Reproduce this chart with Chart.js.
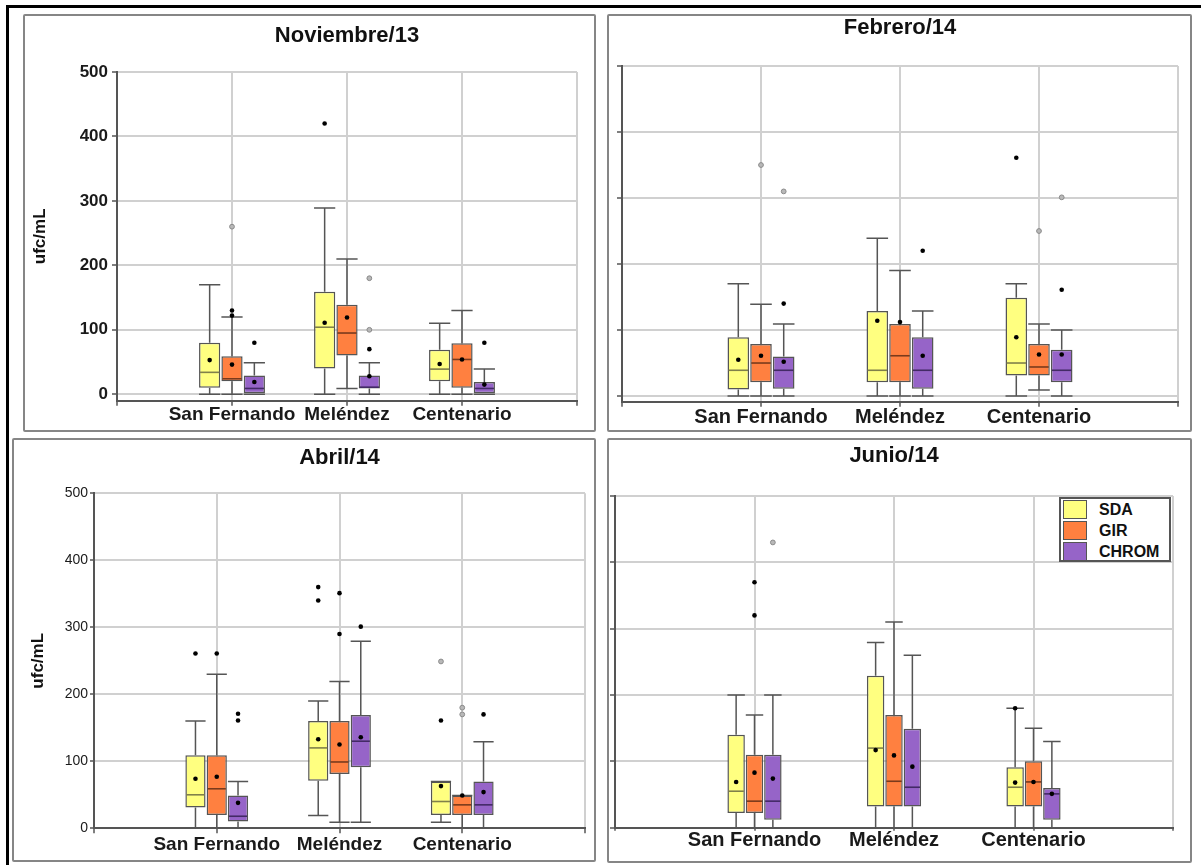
<!DOCTYPE html>
<html>
<head>
<meta charset="utf-8">
<script src="https://cdn.jsdelivr.net/npm/chart.js@4.4.1/dist/chart.umd.min.js"></script>
<style>
  body{margin:0;background:#fff;width:1201px;height:865px;position:relative;overflow:hidden;font-family:"Liberation Sans",Arial,sans-serif;}
  .frame-top{position:absolute;left:6px;top:5px;width:1195px;height:2.5px;background:#000;}
  .frame-left{position:absolute;left:6px;top:5px;width:2.5px;height:860px;background:#000;}
  .panel{position:absolute;border:2px solid #868686;box-sizing:border-box;border-radius:2px;background:#fff;}
  .panel canvas{position:absolute;left:0;top:0;}
  .legend{position:absolute;left:1059px;top:497px;width:112px;height:65px;border:2px solid #555;box-sizing:border-box;background:#fff;}
  .legend .item{position:absolute;left:2px;height:19px;width:106px;}
  .legend .sw{position:absolute;left:0;top:0;width:22px;height:17px;border:1px solid #555;}
  .legend .lbl{position:absolute;left:36px;top:0;line-height:19px;font-weight:bold;font-size:16px;color:#111;}
</style>
</head>
<body>
<div class="frame-top"></div>
<div class="frame-left"></div>

<div class="panel" style="left:23px;top:14px;width:573px;height:418px;"><canvas id="c1" width="569" height="414" style="width:569px;height:414px"></canvas></div>
<div class="panel" style="left:607px;top:14px;width:585px;height:418px;"><canvas id="c2" width="581" height="414" style="width:581px;height:414px"></canvas></div>
<div class="panel" style="left:12px;top:438px;width:584px;height:424px;"><canvas id="c3" width="580" height="420" style="width:580px;height:420px"></canvas></div>
<div class="panel" style="left:607px;top:438px;width:585px;height:425px;"><canvas id="c4" width="581" height="421" style="width:581px;height:421px"></canvas></div>

<div class="legend">
  <div class="item" style="top:1px;"><div class="sw" style="background:#FFFF80"></div><div class="lbl">SDA</div></div>
  <div class="item" style="top:22px;"><div class="sw" style="background:#FF8040"></div><div class="lbl">GIR</div></div>
  <div class="item" style="top:43px;"><div class="sw" style="background:#9664C8"></div><div class="lbl">CHROM</div></div>
</div>

<script>
// ---------- DATA ----------
const categories = ['San Fernando', 'Meléndez', 'Centenario'];
const series = ['SDA', 'GIR', 'CHROM'];
const yTicks = [0, 100, 200, 300, 400, 500];

// box = [min, q1, median, q3, max] per category
// Noviembre/13
const NOV_SDA_BOX   = [[0,10,34,80,170],[0,40,104,159,289],[0,20,39,69,110]];
const NOV_SDA_MEAN  = [53,111,47];
const NOV_SDA_OUT   = [[],[420],[]];
const NOV_SDA_MILD  = [[],[],[]];
const NOV_GIR_BOX   = [[0,20,24,59,120],[9,60,95,139,210],[0,10,54,79,130]];
const NOV_GIR_MEAN  = [46,119,54];
const NOV_GIR_OUT   = [[130,122],[],[]];
const NOV_GIR_MILD  = [[260],[],[]];
const NOV_CHROM_BOX = [[0,0,9,29,49],[0,9,11,29,49],[0,0,9,19,39]];
const NOV_CHROM_MEAN= [19,28,15];
const NOV_CHROM_OUT = [[80],[70],[80]];
const NOV_CHROM_MILD= [[],[100,180],[]];

// Febrero/14
const FEB_SDA_BOX   = [[0,10,39,89,170],[0,21,39,129,239],[0,31,50,149,170]];
const FEB_SDA_MEAN  = [55,114,89];
const FEB_SDA_OUT   = [[],[],[361]];
const FEB_SDA_MILD  = [[],[],[]];
const FEB_GIR_BOX   = [[0,21,50,79,139],[0,21,61,109,190],[9,31,44,79,109]];
const FEB_GIR_MEAN  = [61,112,63];
const FEB_GIR_OUT   = [[],[],[]];
const FEB_GIR_MILD  = [[350],[],[250]];
const FEB_CHROM_BOX = [[0,11,39,60,109],[0,11,39,89,129],[0,21,39,70,100]];
const FEB_CHROM_MEAN= [52,61,63];
const FEB_CHROM_OUT = [[140],[220],[161]];
const FEB_CHROM_MILD= [[310],[],[301]];

// Abril/14
const ABR_SDA_BOX   = [[0,31,50,109,160],[19,71,120,160,190],[9,20,40,70,70]];
const ABR_SDA_MEAN  = [74,133,63];
const ABR_SDA_OUT   = [[261],[340,360],[161]];
const ABR_SDA_MILD  = [[],[],[249]];
const ABR_GIR_BOX   = [[0,20,59,109,230],[9,81,99,160,219],[0,20,35,49,49]];
const ABR_GIR_MEAN  = [77,125,49];
const ABR_GIR_OUT   = [[261],[290,351],[]];
const ABR_GIR_MILD  = [[],[],[170,180]];
const ABR_CHROM_BOX = [[0,10,18,49,70],[9,91,130,169,279],[0,20,35,70,129]];
const ABR_CHROM_MEAN= [38,136,54];
const ABR_CHROM_OUT = [[161,171],[301],[170]];
const ABR_CHROM_MILD= [[],[],[]];

// Junio/14
const JUN_SDA_BOX   = [[0,22,55,140,200],[0,32,120,229,279],[0,32,61,91,180]];
const JUN_SDA_MEAN  = [69,117,68];
const JUN_SDA_OUT   = [[],[],[180]];
const JUN_SDA_MILD  = [[],[],[]];
const JUN_GIR_BOX   = [[0,22,40,110,170],[0,32,70,170,310],[0,32,69,100,150]];
const JUN_GIR_MEAN  = [83,109,69];
const JUN_GIR_OUT   = [[320,370],[],[]];
const JUN_GIR_MILD  = [[],[],[]];
const JUN_CHROM_BOX = [[0,12,40,110,200],[0,32,61,149,260],[0,12,51,60,130]];
const JUN_CHROM_MEAN= [74,92,51];
const JUN_CHROM_OUT = [[],[],[]];
const JUN_CHROM_MILD= [[430],[],[]];

// ---------- STYLE ----------
const FILL   = {SDA:'#FFFF80', GIR:'#FF8040', CHROM:'#9664C8'};
const MEDCOL = {SDA:'#80804a', GIR:'#7a3a1c', CHROM:'#432a66'};
const FAMILY = '"Liberation Sans", Arial, sans-serif';
Chart.defaults.font.family = FAMILY;

const boxDecor = {
  id: 'boxDecor',
  afterDatasetsDraw(chart) {
    const ctx = chart.ctx;
    const ys = chart.scales.y;
    ctx.save();
    chart.data.datasets.forEach((ds, di) => {
      const meta = chart.getDatasetMeta(di);
      meta.data.forEach((bar, i) => {
        const st = ds.stats[i];
        if (!st) return;
        const p = bar.getProps(['x', 'width'], true);
        const x = p.x, hw = p.width / 2;
        const py = v => ys.getPixelForValue(v);
        const [mn, q1, md, q3, mx] = st.box;
        // whiskers + caps
        ctx.strokeStyle = '#555';
        ctx.lineWidth = 1.5;
        ctx.beginPath();
        if (mx > q3) { ctx.moveTo(x, py(q3)); ctx.lineTo(x, py(mx)); }
        ctx.moveTo(x - hw, py(mx)); ctx.lineTo(x + hw, py(mx));
        if (mn < q1) { ctx.moveTo(x, py(q1)); ctx.lineTo(x, py(mn)); }
        ctx.moveTo(x - hw, py(mn)); ctx.lineTo(x + hw, py(mn));
        ctx.stroke();
        // median
        ctx.strokeStyle = ds.medColor;
        ctx.lineWidth = 1.6;
        ctx.beginPath();
        ctx.moveTo(x - hw + 1, py(md)); ctx.lineTo(x + hw - 1, py(md));
        ctx.stroke();
        // mean
        ctx.fillStyle = '#000';
        ctx.beginPath(); ctx.arc(x, py(st.mean), 2.3, 0, Math.PI * 2); ctx.fill();
        // far outliers
        st.out.forEach(v => { ctx.beginPath(); ctx.arc(x, py(v), 2.3, 0, Math.PI * 2); ctx.fill(); });
        // mild outliers
        st.mild.forEach(v => {
          ctx.beginPath(); ctx.arc(x, py(v), 2.4, 0, Math.PI * 2);
          ctx.fillStyle = '#b8b8b8'; ctx.fill();
          ctx.strokeStyle = '#8a8a8a'; ctx.lineWidth = 1; ctx.stroke();
        });
        ctx.fillStyle = '#000';
      });
    });
    ctx.restore();
  }
};

function buildDatasets(groups) {
  return series.map((name, si) => {
    const g = groups[si];
    const data = [null];
    const stats = [null];
    g.box.forEach((b, ci) => {
      data.push([b[1], b[3]]);
      stats.push({box: b, mean: g.mean[ci], out: g.out[ci], mild: g.mild[ci]});
    });
    data.push(null); stats.push(null);
    return {
      label: name,
      data: data,
      stats: stats,
      medColor: MEDCOL[name],
      backgroundColor: FILL[name],
      borderColor: '#555',
      borderWidth: 1.5,
      borderSkipped: false
    };
  });
}

function makePanel(id, title, groups, o) {
  const yScale = {
    type: 'linear',
    min: o.yMin, max: 500,
    afterBuildTicks: s => { s.ticks = yTicks.map(v => ({value: v})); },
    afterFit: s => { s.width = o.yW; },
    grid: {color: '#d0d0d0', lineWidth: 2, drawTicks: true, tickLength: o.yTickLen, tickColor: '#555', tickWidth: 1.5},
    border: {display: true, color: '#555', width: 2},
    ticks: {display: o.yLabels, padding: o.yTickPad, color: '#1a1a1a',
            font: {size: o.yFont, weight: o.yWeight, lineHeight: 1}},
    title: {display: !!o.yTitle, text: 'ufc/mL', color: '#111',
            font: {size: 17, weight: 'bold', lineHeight: 1.2}, padding: {top: o.yTitlePad, bottom: 0}}
  };
  const xScale = {
    type: 'category',
    labels: ['', ...categories, ''],
    offset: false,
    afterFit: s => { s.height = o.xH; },
    grid: {offset: false, color: '#d0d0d0', lineWidth: 2, drawTicks: true, tickLength: o.xTickLen, tickColor: '#555', tickWidth: 1.5},
    border: {display: true, color: '#555', width: 2},
    ticks: {autoSkip: false, maxRotation: 0, padding: o.xTickPad, color: '#1a1a1a',
            font: {size: o.xFont, weight: 'bold', lineHeight: 1}}
  };
  return new Chart(document.getElementById(id), {
    type: 'bar',
    data: {labels: ['', ...categories, ''], datasets: buildDatasets(groups)},
    options: {
      responsive: false,
      animation: false,
      devicePixelRatio: 1,
      events: [],
      layout: {padding: {left: 0, right: o.padR, top: 0, bottom: 0}},
      categoryPercentage: o.catPct,
      barPercentage: 0.95,
      plugins: {
        legend: {display: false},
        tooltip: {enabled: false},
        title: {display: true, text: title, fullSize: false, color: '#111',
                font: {size: 22, weight: 'bold', lineHeight: 1},
                padding: {top: o.tPadTop, bottom: o.tPadBottom}}
      },
      scales: {x: xScale, y: yScale}
    },
    plugins: [boxDecor]
  });
}

function grp(box, mean, out, mild) { return {box, mean, out, mild}; }

makePanel('c1', 'Noviembre/13', [
  grp(NOV_SDA_BOX, NOV_SDA_MEAN, NOV_SDA_OUT, NOV_SDA_MILD),
  grp(NOV_GIR_BOX, NOV_GIR_MEAN, NOV_GIR_OUT, NOV_GIR_MILD),
  grp(NOV_CHROM_BOX, NOV_CHROM_MEAN, NOV_CHROM_OUT, NOV_CHROM_MILD)
], {yW: 92, padR: 17, tPadTop: 9, tPadBottom: 25, xH: 29.3, yMin: -10,
    xTickLen: 5, xTickPad: 0, xFont: 19, yLabels: true, yFont: 17, yWeight: 'bold',
    yTickLen: 5, yTickPad: 4, yTitle: true, yTitlePad: 5, catPct: 0.583});

makePanel('c2', 'Febrero/14', [
  grp(FEB_SDA_BOX, FEB_SDA_MEAN, FEB_SDA_OUT, FEB_SDA_MILD),
  grp(FEB_GIR_BOX, FEB_GIR_MEAN, FEB_GIR_OUT, FEB_GIR_MILD),
  grp(FEB_CHROM_BOX, FEB_CHROM_MEAN, FEB_CHROM_OUT, FEB_CHROM_MILD)
], {yW: 13, padR: 12, tPadTop: 1, tPadBottom: 27, xH: 28.3, yMin: -8.6,
    xTickLen: 5, xTickPad: 0.5, xFont: 20, yLabels: false, yFont: 14, yWeight: 'normal',
    yTickLen: 5, yTickPad: 2, yTitle: false, yTitlePad: 0, catPct: 0.49});

makePanel('c3', 'Abril/14', [
  grp(ABR_SDA_BOX, ABR_SDA_MEAN, ABR_SDA_OUT, ABR_SDA_MILD),
  grp(ABR_GIR_BOX, ABR_GIR_MEAN, ABR_GIR_OUT, ABR_GIR_MILD),
  grp(ABR_CHROM_BOX, ABR_CHROM_MEAN, ABR_CHROM_OUT, ABR_CHROM_MILD)
], {yW: 80, padR: 9, tPadTop: 7, tPadBottom: 24.3, xH: 31.7, yMin: 0,
    xTickLen: 5, xTickPad: 2, xFont: 19, yLabels: true, yFont: 14, yWeight: 'normal',
    yTickLen: 4, yTickPad: 2, yTitle: true, yTitlePad: 14, catPct: 0.52});

makePanel('c4', 'Junio/14', [
  grp(JUN_SDA_BOX, JUN_SDA_MEAN, JUN_SDA_OUT, JUN_SDA_MILD),
  grp(JUN_GIR_BOX, JUN_GIR_MEAN, JUN_GIR_OUT, JUN_GIR_MILD),
  grp(JUN_CHROM_BOX, JUN_CHROM_MEAN, JUN_CHROM_OUT, JUN_CHROM_MILD)
], {yW: 6, padR: 17, tPadTop: 5, tPadBottom: 29, xH: 33.3, yMin: 0,
    xTickLen: 3, xTickPad: 0, xFont: 20, yLabels: false, yFont: 14, yWeight: 'normal',
    yTickLen: 5, yTickPad: 2, yTitle: false, yTitlePad: 0, catPct: 0.395});
</script>
</body>
</html>
